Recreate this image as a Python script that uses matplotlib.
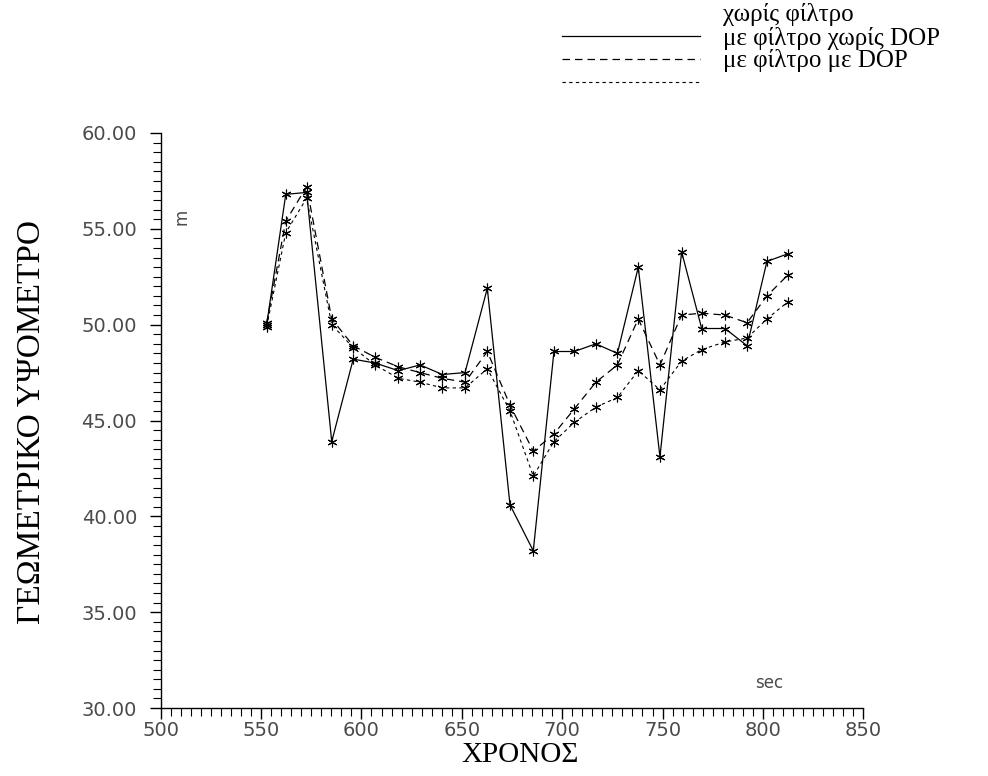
import matplotlib
matplotlib.use("Agg")
import matplotlib.pyplot as plt
from matplotlib.ticker import MultipleLocator, FormatStrFormatter
from matplotlib.lines import Line2D

# Epoch times (sec)
time_s = [552.8, 562.3, 572.7, 585.2, 595.9, 606.8, 618.4, 629.2, 640.3, 651.6,
          662.7, 674.0, 685.6, 695.9, 706.0, 716.8, 727.5, 737.9, 748.7, 759.5,
          769.5, 781.1, 792.1, 802.0, 812.5]

# Geometric height (m) for the three solutions
no_filter = [50.0, 56.8, 56.9, 43.9, 48.2, 48.0, 47.6, 47.9, 47.4, 47.5,
             51.9, 40.6, 38.2, 48.6, 48.6, 49.0, 48.5, 53.0, 43.1, 53.8,
             49.8, 49.8, 48.9, 53.3, 53.7]
filter_no_dop = [50.1, 55.4, 57.2, 50.3, 48.9, 48.3, 47.8, 47.5, 47.2, 47.0,
                 48.6, 45.8, 43.4, 44.3, 45.6, 47.0, 47.9, 50.3, 47.9, 50.5,
                 50.6, 50.5, 50.1, 51.5, 52.6]
filter_dop = [49.9, 54.8, 56.6, 50.0, 48.8, 47.9, 47.2, 47.0, 46.7, 46.7,
              47.7, 45.5, 42.1, 43.9, 44.9, 45.7, 46.2, 47.6, 46.6, 48.1,
              48.7, 49.1, 49.3, 50.3, 51.2]

legend_labels = ["χωρίς φίλτρο", "με φίλτρο χωρίς DOP", "με φίλτρο με DOP"]
x_title = "ΧΡΟΝΟΣ"
y_title = "ΓΕΩΜΕΤΡΙΚΟ ΥΨΟΜΕΤΡΟ"

W, H = 988, 776
serif = ["Liberation Serif", "DejaVu Serif"]
tick_color = "#4a4a4a"

fig = plt.figure(figsize=(W / 100, H / 100), dpi=100)
ax = fig.add_axes([160.7 / W, 1 - 708 / H, 702.6 / W, 575 / H])

styles = [
    dict(linestyle="-", linewidth=0.9),
    dict(linestyle=(0, (6, 4)), linewidth=0.9),
    dict(linestyle=(0, (3, 3)), linewidth=0.8),
]
series = [no_filter, filter_no_dop, filter_dop]
for vals, st in zip(series, styles):
    ax.plot(time_s, vals, color="black", marker=(6, 2, 0), markersize=7,
            markeredgewidth=0.8, **st)

ax.set_xlim(500, 850)
ax.set_ylim(30, 60)
ax.xaxis.set_major_locator(MultipleLocator(50))
ax.xaxis.set_minor_locator(MultipleLocator(5))
ax.yaxis.set_major_locator(MultipleLocator(5))
ax.yaxis.set_minor_locator(MultipleLocator(0.5))
ax.yaxis.set_major_formatter(FormatStrFormatter("%.2f"))

for side in ("top", "right"):
    ax.spines[side].set_visible(False)
for side in ("left", "bottom"):
    ax.spines[side].set_linewidth(1.0)

ax.tick_params(axis="both", which="major", direction="out", length=8, width=1.0,
               labelsize=14, labelcolor=tick_color)
ax.tick_params(axis="y", which="major", pad=9)
ax.tick_params(axis="x", which="major", pad=1)
ax.tick_params(axis="both", which="minor", direction="out", length=6, width=0.8)

fig.text(520 / W, 1 - 755 / H, x_title, fontsize=21, family=serif,
         ha="center", va="center")
fig.text(32 / W, 1 - 422 / H, y_title, fontsize=24, family=serif,
         rotation=90, ha="center", va="center")

ax.text(510.6, 55.6, "m", rotation=90, fontsize=12, color=tick_color,
        ha="center", va="center")
ax.text(803, 31.3, "sec", fontsize=12, color=tick_color, ha="center", va="center")

# Legend at the top right: line samples sit one row below their labels
text_rows = [15, 38, 60]
line_rows = [36, 59, 82]
for ty, ly, st, lab in zip(text_rows, line_rows, styles, legend_labels):
    fig.add_artist(Line2D([562 / W, 700 / W], [1 - ly / H, 1 - ly / H],
                          color="black", transform=fig.transFigure, **st))
    fig.text(723 / W, 1 - ty / H, lab, fontsize=18, family=serif,
             ha="left", va="center")

fig.savefig("out.png", dpi=100)
